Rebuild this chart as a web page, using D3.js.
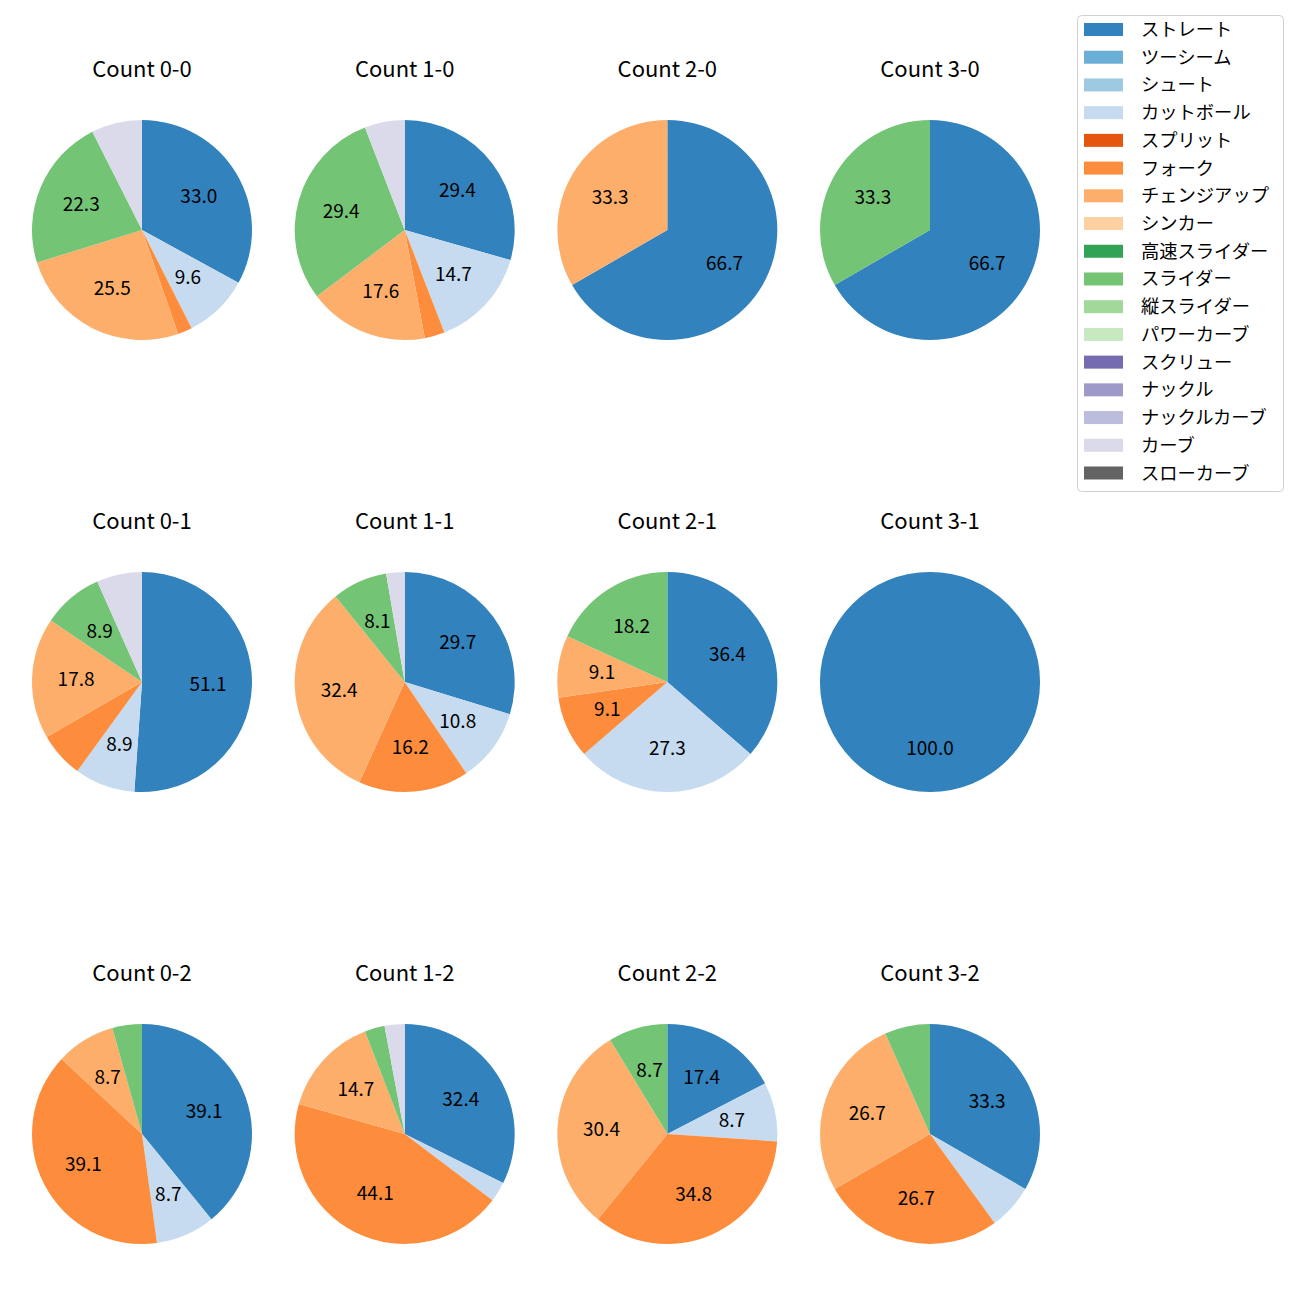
<!DOCTYPE html>
<html>
<head>
<meta charset="utf-8">
<script src="https://cdn.jsdelivr.net/npm/d3@7"></script>
<style>
  html, body { margin: 0; padding: 0; background: #fff; }
  svg { display: block; }
  text { font-family: "Noto Sans CJK JP", "Noto Sans", sans-serif; fill: #000; }
</style>
</head>
<body>
<svg id="chart" width="1300" height="1300"></svg>
<script>
// Pitch types (legend order) and tab20c colours
const pitchTypes = ["ストレート","ツーシーム","シュート","カットボール","スプリット","フォーク","チェンジアップ","シンカー","高速スライダー","スライダー","縦スライダー","パワーカーブ","スクリュー","ナックル","ナックルカーブ","カーブ","スローカーブ"];
const pitchColors = ["#3182bd","#6baed6","#9ecae1","#c6dbef","#e6550d","#fd8d3c","#fdae6b","#fdd0a2","#31a354","#74c476","#a1d99b","#c7e9c0","#756bb1","#9e9ac8","#bcbddc","#dadaeb","#636363"];

// Count titles (row-major, 3 rows x 4 cols)
const countLabels = ["0-0","1-0","2-0","3-0","0-1","1-1","2-1","3-1","0-2","1-2","2-2","3-2"];

// Pitch counts per ball-strike count, in pitchTypes order
const c00 = [31,0,0,9,0,2,24,0,0,21,0,0,0,0,0,7,0];
const c10 = [10,0,0,5,0,1,6,0,0,10,0,0,0,0,0,2,0];
const c20 = [2,0,0,0,0,0,1,0,0,0,0,0,0,0,0,0,0];
const c30 = [2,0,0,0,0,0,0,0,0,1,0,0,0,0,0,0,0];
const c01 = [23,0,0,4,0,3,8,0,0,4,0,0,0,0,0,3,0];
const c11 = [11,0,0,4,0,6,12,0,0,3,0,0,0,0,0,1,0];
const c21 = [4,0,0,3,0,1,1,0,0,2,0,0,0,0,0,0,0];
const c31 = [1,0,0,0,0,0,0,0,0,0,0,0,0,0,0,0,0];
const c02 = [9,0,0,2,0,9,2,0,0,1,0,0,0,0,0,0,0];
const c12 = [11,0,0,1,0,15,5,0,0,1,0,0,0,0,0,1,0];
const c22 = [4,0,0,2,0,8,7,0,0,2,0,0,0,0,0,0,0];
const c32 = [5,0,0,1,0,4,4,0,0,1,0,0,0,0,0,0,0];
const countValues = [c00,c10,c20,c30,c01,c11,c21,c31,c02,c12,c22,c32];

const labelThreshold = 8; // percent; smaller wedges are unlabeled

const svg = d3.select("#chart");

const colX = d3.scalePoint().domain([0,1,2,3]).range([142, 930]);
const rowY = d3.scalePoint().domain([0,1,2]).range([230, 1134]);
const R = 110;

const pie = d3.pie().sort(null).value(d => d.v)
  .startAngle(0).endAngle(2 * Math.PI);
const arc = d3.arc().innerRadius(0).outerRadius(R);
const labelArc = d3.arc().innerRadius(R * 0.6).outerRadius(R * 0.6);

countLabels.forEach((lab, i) => {
  const col = i % 4, row = Math.floor(i / 4);
  const cx = colX(col), cy = rowY(row);
  const vals = countValues[i];
  const total = d3.sum(vals);
  const data = vals.map((v, k) => ({v, k})).filter(d => d.v > 0);
  const g = svg.append("g").attr("transform", `translate(${cx},${cy})`);

  g.selectAll("path.wedge").data(pie(data)).enter().append("path")
    .attr("class", "wedge")
    .attr("d", arc)
    .attr("fill", d => pitchColors[d.data.k]);

  g.selectAll("text.pct").data(pie(data).filter(d => d.data.v / total * 100 >= labelThreshold))
    .enter().append("text")
    .attr("class", "pct")
    .attr("transform", d => { const c = labelArc.centroid(d); return `translate(${c[0]},${c[1] - 2})`; })
    .attr("text-anchor", "middle")
    .attr("dominant-baseline", "central")
    .attr("font-size", 19)
    .text(d => (d.data.v / total * 100).toFixed(1));

  svg.append("text")
    .attr("x", cx).attr("y", cy - 163)
    .attr("text-anchor", "middle")
    .attr("dominant-baseline", "central")
    .attr("font-size", 22)
    .text("Count " + lab);
});

// Legend
const lg = svg.append("g");
const legY = d3.scaleLinear().domain([0, pitchTypes.length - 1]).range([29.5, 473]);
lg.append("rect")
  .attr("x", 1077.5).attr("y", 15.5).attr("width", 206).attr("height", 476)
  .attr("rx", 4).attr("ry", 4)
  .attr("fill", "#fff").attr("fill-opacity", 0.8)
  .attr("stroke", "#d0d0d0").attr("stroke-width", 1);
pitchTypes.forEach((p, k) => {
  const y = legY(k);
  lg.append("rect")
    .attr("x", 1084).attr("y", y - 6.5).attr("width", 39).attr("height", 13)
    .attr("fill", pitchColors[k]);
  lg.append("text")
    .attr("x", 1141).attr("y", y - 1.5)
    .attr("dominant-baseline", "central")
    .attr("font-size", 18.3)
    .text(p);
});
</script>
</body>
</html>
